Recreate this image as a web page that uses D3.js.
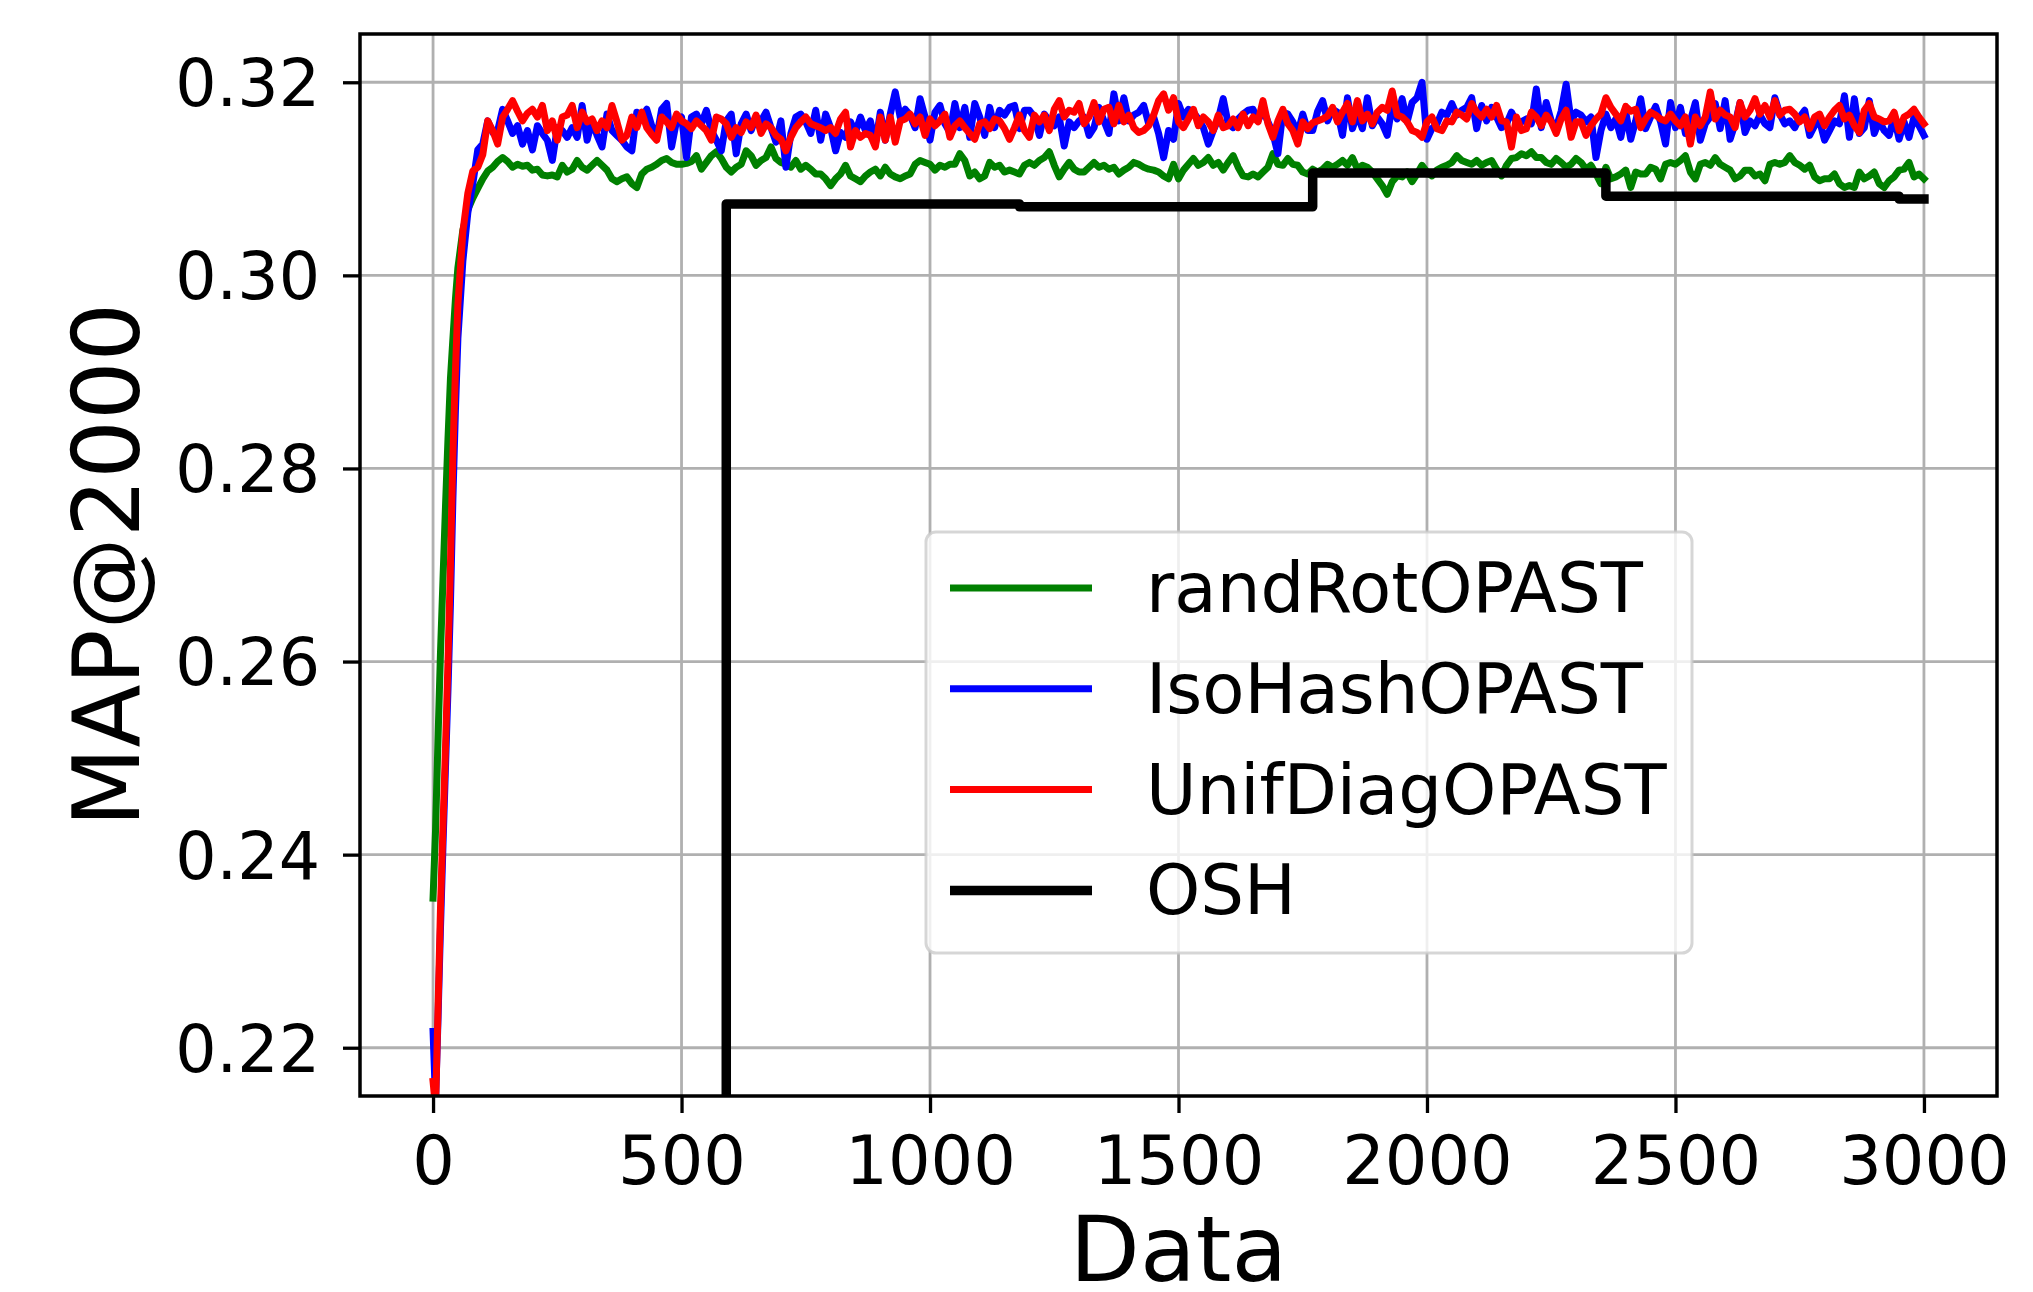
<!DOCTYPE html>
<html>
<head>
<meta charset="utf-8">
<script src="https://cdn.jsdelivr.net/npm/d3@7"></script>
<style>
  body { margin: 0; background: #fff; }
  svg { display: block; font-family: "DejaVu Sans", sans-serif; }
</style>
</head>
<body>
<svg id="chart" width="2033" height="1292"></svg>
<script>
// sample positions: dense at the start, then every 10 data points
const riseX = [0, 5, 10, 15, 20, 25, 30, 35, 40, 45, 50];
const dataX = riseX.concat(d3.range(60, 3001, 10));

const randRotOPAST = [
  0.2355, 0.2425, 0.2520, 0.2610, 0.2685, 0.2760, 0.2830, 0.2893, 0.2935, 0.2975, 0.3008,
  0.3047, 0.3068, 0.3080, 0.3090, 0.3100, 0.3108, 0.3112, 0.3118, 0.3122, 0.3118,
  0.3112, 0.3115, 0.3113, 0.3114, 0.3109, 0.3110, 0.3104, 0.3103, 0.3104, 0.3102,
  0.3114, 0.3107, 0.3110, 0.3119, 0.3112, 0.3109, 0.3114, 0.3119, 0.3114, 0.3109,
  0.3100, 0.3097, 0.3100, 0.3102, 0.3095, 0.3091, 0.3105, 0.3110, 0.3112, 0.3115,
  0.3119, 0.3121, 0.3117, 0.3115, 0.3115, 0.3116, 0.3118, 0.3124, 0.3110, 0.3117,
  0.3124, 0.3128,
  0.3121, 0.3112, 0.3107, 0.3112, 0.3115, 0.3129, 0.3124, 0.3114, 0.3119, 0.3122,
  0.3133, 0.3121, 0.3117, 0.3115, 0.3112, 0.3119, 0.3110, 0.3114, 0.3110, 0.3105,
  0.3105, 0.3100, 0.3093, 0.3100, 0.3105, 0.3114, 0.3103, 0.3100, 0.3097, 0.3103,
  0.3107, 0.3110, 0.3103, 0.3112, 0.3105, 0.3102, 0.3100, 0.3103, 0.3105, 0.3115,
  0.3119, 0.3117, 0.3115, 0.3109, 0.3114, 0.3112, 0.3115, 0.3115, 0.3126, 0.3119,
  0.3103, 0.3107, 0.3100, 0.3103, 0.3117, 0.3112, 0.3114, 0.3107, 0.3109, 0.3107,
  0.3105, 0.3114, 0.3117, 0.3114, 0.3119, 0.3122, 0.3128, 0.3114, 0.3102, 0.3110,
  0.3117, 0.3110, 0.3107, 0.3107, 0.3112, 0.3117, 0.3112, 0.3114, 0.3110, 0.3112,
  0.3105, 0.3109, 0.3112, 0.3117, 0.3115, 0.3112, 0.3110, 0.3109, 0.3107, 0.3103,
  0.3100, 0.3115, 0.3100, 0.3109, 0.3115, 0.3121, 0.3114, 0.3117, 0.3122, 0.3114,
  0.3117, 0.3109, 0.3117, 0.3124, 0.3112, 0.3103, 0.3102, 0.3105, 0.3102, 0.3107,
  0.3112, 0.3126, 0.3115, 0.3114, 0.3121, 0.3115, 0.3114, 0.3107, 0.3105,
  0.3110, 0.3107, 0.3110, 0.3115, 0.3112, 0.3115, 0.3119, 0.3114, 0.3122, 0.3110,
  0.3114, 0.3112, 0.3107, 0.3100, 0.3093, 0.3084, 0.3097, 0.3103, 0.3102, 0.3107,
  0.3097, 0.3105, 0.3114, 0.3107, 0.3103, 0.3109, 0.3112, 0.3114, 0.3117, 0.3124,
  0.3119, 0.3117, 0.3115, 0.3119, 0.3114, 0.3117, 0.3119, 0.3110, 0.3103, 0.3114,
  0.3121, 0.3122, 0.3126, 0.3124, 0.3128, 0.3122, 0.3122, 0.3117, 0.3115, 0.3121,
  0.3117, 0.3112, 0.3115, 0.3121, 0.3117, 0.3110, 0.3114, 0.3105, 0.3095,
  0.3112, 0.3100, 0.3102, 0.3105, 0.3109, 0.3091, 0.3107, 0.3105, 0.3105, 0.3112,
  0.3110, 0.3100, 0.3115, 0.3117, 0.3115, 0.3119, 0.3124, 0.3107, 0.3100, 0.3115,
  0.3117, 0.3114, 0.3122, 0.3115, 0.3112, 0.3109, 0.3100, 0.3103, 0.3109, 0.3109,
  0.3103, 0.3105, 0.3098, 0.3115, 0.3117, 0.3115, 0.3117, 0.3124, 0.3117, 0.3114,
  0.3110, 0.3114, 0.3102, 0.3098, 0.3100, 0.3100, 0.3105, 0.3095, 0.3091, 0.3093,
  0.3091, 0.3107, 0.3100, 0.3103, 0.3107, 0.3095, 0.3091, 0.3098, 0.3102, 0.3109,
  0.3110, 0.3117, 0.3102, 0.3105, 0.3100
];

const isoHashOPAST = [
  0.2217, 0.2145, 0.2230, 0.2325, 0.2410, 0.2490, 0.2570, 0.2660, 0.2770, 0.2860, 0.2935,
  0.3015, 0.3065, 0.3095, 0.3130, 0.3136, 0.3160, 0.3148, 0.3150, 0.3172, 0.3160,
  0.3147, 0.3155, 0.3136, 0.3150, 0.3130, 0.3155, 0.3147, 0.3140, 0.3119, 0.3153,
  0.3150, 0.3143, 0.3153, 0.3143, 0.3176, 0.3140, 0.3160, 0.3145, 0.3133, 0.3167,
  0.3150, 0.3145, 0.3140, 0.3133, 0.3129, 0.3169, 0.3164, 0.3172, 0.3155, 0.3143,
  0.3172, 0.3178, 0.3133, 0.3160, 0.3164, 0.3122, 0.3164, 0.3167, 0.3157, 0.3171,
  0.3150, 0.3140,
  0.3129, 0.3160, 0.3167, 0.3126, 0.3157, 0.3167, 0.3150, 0.3164, 0.3160, 0.3169,
  0.3153, 0.3138, 0.3160, 0.3112, 0.3147, 0.3164, 0.3167, 0.3159, 0.3147, 0.3171,
  0.3140, 0.3167, 0.3153, 0.3129, 0.3148, 0.3143, 0.3159, 0.3148, 0.3164, 0.3150,
  0.3160, 0.3136, 0.3169, 0.3140, 0.3167, 0.3190, 0.3164, 0.3172, 0.3166, 0.3153,
  0.3183, 0.3164, 0.3140, 0.3169, 0.3176, 0.3157, 0.3148, 0.3178, 0.3153, 0.3174,
  0.3143, 0.3178, 0.3164, 0.3145, 0.3174, 0.3153, 0.3171, 0.3166, 0.3174, 0.3176,
  0.3152, 0.3171, 0.3171, 0.3164, 0.3145, 0.3167, 0.3160, 0.3155, 0.3164, 0.3134,
  0.3159, 0.3153, 0.3160, 0.3164, 0.3145, 0.3153, 0.3174, 0.3160, 0.3147, 0.3188,
  0.3160, 0.3184, 0.3160, 0.3166, 0.3169, 0.3176, 0.3157, 0.3164, 0.3147, 0.3122,
  0.3150, 0.3141, 0.3178, 0.3164, 0.3172, 0.3169, 0.3162, 0.3153, 0.3136, 0.3150,
  0.3162, 0.3183, 0.3157, 0.3153, 0.3162, 0.3167, 0.3171, 0.3172, 0.3160, 0.3172,
  0.3159, 0.3147, 0.3126, 0.3169, 0.3167, 0.3159, 0.3147, 0.3167, 0.3150,
  0.3150, 0.3170, 0.3181, 0.3160, 0.3172, 0.3169, 0.3145, 0.3184, 0.3152, 0.3167,
  0.3152, 0.3184, 0.3155, 0.3164, 0.3157, 0.3145, 0.3176, 0.3162, 0.3183, 0.3159,
  0.3179, 0.3184, 0.3200, 0.3141, 0.3152, 0.3157, 0.3169, 0.3166, 0.3178, 0.3166,
  0.3171, 0.3174, 0.3184, 0.3152, 0.3176, 0.3160, 0.3174, 0.3164, 0.3153, 0.3157,
  0.3169, 0.3159, 0.3159, 0.3162, 0.3157, 0.3193, 0.3153, 0.3179, 0.3160, 0.3153,
  0.3170, 0.3198, 0.3160, 0.3169, 0.3166, 0.3159, 0.3164, 0.3122, 0.3150,
  0.3167, 0.3153, 0.3162, 0.3143, 0.3169, 0.3141, 0.3160, 0.3183, 0.3152, 0.3164,
  0.3175, 0.3159, 0.3136, 0.3179, 0.3153, 0.3174, 0.3147, 0.3160, 0.3179, 0.3140,
  0.3157, 0.3164, 0.3178, 0.3152, 0.3181, 0.3141, 0.3157, 0.3179, 0.3148, 0.3160,
  0.3155, 0.3166, 0.3157, 0.3153, 0.3184, 0.3167, 0.3157, 0.3160, 0.3153, 0.3164,
  0.3171, 0.3145, 0.3155, 0.3160, 0.3140, 0.3150, 0.3160, 0.3157, 0.3186, 0.3143,
  0.3183, 0.3147, 0.3153, 0.3181, 0.3147, 0.3160, 0.3150, 0.3145, 0.3164, 0.3141,
  0.3159, 0.3143, 0.3164, 0.3155, 0.3145
];

const unifDiagOPAST = [
  0.2165, 0.2138, 0.2240, 0.2345, 0.2430, 0.2510, 0.2600, 0.2700, 0.2815, 0.2900, 0.2970,
  0.3045, 0.3085, 0.3108, 0.3112, 0.3125, 0.3160, 0.3150, 0.3136, 0.3164, 0.3172,
  0.3181, 0.3170, 0.3160, 0.3168, 0.3172, 0.3164, 0.3176, 0.3150, 0.3160, 0.3140,
  0.3164, 0.3166, 0.3176, 0.3153, 0.3169, 0.3159, 0.3162, 0.3150, 0.3160, 0.3153,
  0.3176, 0.3159, 0.3140, 0.3145, 0.3164, 0.3153, 0.3169, 0.3153, 0.3146, 0.3140,
  0.3164, 0.3159, 0.3153, 0.3167, 0.3160, 0.3157, 0.3152, 0.3160, 0.3155, 0.3150,
  0.3140, 0.3164,
  0.3162, 0.3157, 0.3143, 0.3153, 0.3148, 0.3159, 0.3153, 0.3166, 0.3147, 0.3157,
  0.3153, 0.3145, 0.3141, 0.3129, 0.3143, 0.3153, 0.3159, 0.3164, 0.3157, 0.3155,
  0.3153, 0.3150, 0.3153, 0.3147, 0.3162, 0.3169, 0.3133, 0.3150, 0.3143, 0.3147,
  0.3145, 0.3133, 0.3164, 0.3140, 0.3164, 0.3138, 0.3160, 0.3162, 0.3167, 0.3157,
  0.3164, 0.3145, 0.3162, 0.3155, 0.3160, 0.3167, 0.3143, 0.3155, 0.3160, 0.3153,
  0.3147, 0.3141, 0.3157, 0.3159, 0.3152, 0.3162, 0.3160, 0.3152, 0.3141, 0.3153,
  0.3166, 0.3150, 0.3143, 0.3166, 0.3159, 0.3166, 0.3150, 0.3172, 0.3181, 0.3164,
  0.3171, 0.3169, 0.3178, 0.3157, 0.3164, 0.3179, 0.3159, 0.3172, 0.3174, 0.3157,
  0.3176, 0.3159, 0.3166, 0.3153, 0.3148, 0.3150, 0.3155, 0.3166, 0.3181, 0.3188,
  0.3171, 0.3184, 0.3159, 0.3153, 0.3162, 0.3172, 0.3155, 0.3164, 0.3159, 0.3150,
  0.3166, 0.3153, 0.3155, 0.3162, 0.3153, 0.3167, 0.3155, 0.3164, 0.3159, 0.3181,
  0.3157, 0.3143, 0.3160, 0.3172, 0.3157, 0.3150, 0.3136, 0.3159, 0.3152,
  0.3158, 0.3160, 0.3162, 0.3165, 0.3174, 0.3159, 0.3169, 0.3178, 0.3159, 0.3181,
  0.3160, 0.3167, 0.3157, 0.3169, 0.3174, 0.3171, 0.3191, 0.3166, 0.3164, 0.3159,
  0.3150, 0.3148, 0.3143, 0.3159, 0.3164, 0.3152, 0.3150, 0.3160, 0.3159, 0.3169,
  0.3166, 0.3162, 0.3178, 0.3169, 0.3164, 0.3172, 0.3164, 0.3176, 0.3160, 0.3159,
  0.3133, 0.3164, 0.3150, 0.3152, 0.3169, 0.3164, 0.3155, 0.3166, 0.3159, 0.3147,
  0.3162, 0.3171, 0.3143, 0.3159, 0.3159, 0.3145, 0.3155, 0.3162, 0.3167,
  0.3184, 0.3174, 0.3167, 0.3160, 0.3175, 0.3170, 0.3172, 0.3153, 0.3162, 0.3169,
  0.3166, 0.3162, 0.3160, 0.3167, 0.3160, 0.3155, 0.3164, 0.3136, 0.3164, 0.3155,
  0.3164, 0.3190, 0.3162, 0.3171, 0.3166, 0.3164, 0.3153, 0.3179, 0.3164, 0.3171,
  0.3183, 0.3167, 0.3176, 0.3164, 0.3181, 0.3166, 0.3171, 0.3172, 0.3167, 0.3159,
  0.3164, 0.3152, 0.3164, 0.3167, 0.3155, 0.3164, 0.3171, 0.3176, 0.3162, 0.3166,
  0.3155, 0.3148, 0.3171, 0.3178, 0.3164, 0.3162, 0.3159, 0.3160, 0.3169, 0.3150,
  0.3164, 0.3167, 0.3172, 0.3164, 0.3157
];

// OSH is re-evaluated in blocks; first value lies below the visible range
const oshX = [0, 590, 1180, 1770, 2360, 2950, 3000];
const oshY = [0.205, 0.3074, 0.3071, 0.3106, 0.3082, 0.3079, 0.3079];

const xTicks = [0, 500, 1000, 1500, 2000, 2500, 3000];
const yTicks = [0.22, 0.24, 0.26, 0.28, 0.30, 0.32];

const series = [
  { name: 'randRotOPAST', color: '#008000', width: 7, xs: dataX, ys: randRotOPAST, curve: d3.curveLinear },
  { name: 'IsoHashOPAST', color: '#0000ff', width: 7, xs: dataX, ys: isoHashOPAST, curve: d3.curveLinear },
  { name: 'UnifDiagOPAST', color: '#ff0000', width: 7, xs: dataX, ys: unifDiagOPAST, curve: d3.curveLinear },
  { name: 'OSH', color: '#000000', width: 9.5, xs: oshX, ys: oshY, curve: d3.curveStepAfter }
];

const svg = d3.select('#chart');
const plot = { left: 360, right: 1997, top: 34, bottom: 1096 };

const x = d3.scaleLinear().domain([-147, 3147]).range([plot.left, plot.right]);
const y = d3.scaleLinear().domain([0.215, 0.325]).range([plot.bottom, plot.top]);

svg.append('defs').append('clipPath').attr('id', 'clip')
  .append('rect')
  .attr('x', plot.left).attr('y', plot.top)
  .attr('width', plot.right - plot.left).attr('height', plot.bottom - plot.top);

// grid
svg.append('g')
  .selectAll('line.vgrid')
  .data(xTicks)
  .enter()
  .append('line')
  .attr('x1', (d) => x(d)).attr('x2', (d) => x(d))
  .attr('y1', plot.top).attr('y2', plot.bottom)
  .attr('stroke', '#b0b0b0').attr('stroke-width', 2.8);

svg.append('g')
  .selectAll('line.hgrid')
  .data(yTicks)
  .enter()
  .append('line')
  .attr('y1', (d) => y(d)).attr('y2', (d) => y(d))
  .attr('x1', plot.left).attr('x2', plot.right)
  .attr('stroke', '#b0b0b0').attr('stroke-width', 2.8);

// lines
const lines = svg.append('g').attr('clip-path', 'url(#clip)');
series.forEach((s) => {
  const line = d3.line()
    .x((d) => x(d[0]))
    .y((d) => y(d[1]))
    .curve(s.curve);
  lines.append('path')
    .datum(d3.zip(s.xs, s.ys))
    .attr('d', line)
    .attr('fill', 'none')
    .attr('stroke', s.color)
    .attr('stroke-width', s.width)
    .attr('stroke-linejoin', 'round')
    .attr('stroke-linecap', 'square');
});

// axes
const xAxis = svg.append('g')
  .attr('transform', `translate(0,${plot.bottom})`)
  .call(d3.axisBottom(x).tickValues(xTicks).tickFormat(d3.format('d')).tickSize(17).tickPadding(23));
const yAxis = svg.append('g')
  .attr('transform', `translate(${plot.left},0)`)
  .call(d3.axisLeft(y).tickValues(yTicks).tickFormat(d3.format('.2f')).tickSize(17).tickPadding(23));

[xAxis, yAxis].forEach((g) => {
  g.select('.domain').remove();
  g.selectAll('.tick line').attr('stroke', '#000').attr('stroke-width', 3.3);
  g.selectAll('.tick text')
    .attr('fill', '#000')
    .style('font-family', '"DejaVu Sans", sans-serif');
});
xAxis.selectAll('.tick text').style('font-size', '67px');
yAxis.selectAll('.tick text').style('font-size', '65px').attr('dy', '0.36em');

// frame
svg.append('rect')
  .attr('x', plot.left).attr('y', plot.top)
  .attr('width', plot.right - plot.left).attr('height', plot.bottom - plot.top)
  .attr('fill', 'none').attr('stroke', '#000').attr('stroke-width', 3.5);

// axis labels
svg.append('text')
  .attr('x', (plot.left + plot.right) / 2)
  .attr('y', 1281)
  .attr('text-anchor', 'middle')
  .style('font-size', '91px')
  .text('Data');

svg.append('text')
  .attr('transform', `translate(139,${(plot.top + plot.bottom) / 2}) rotate(-90)`)
  .attr('text-anchor', 'middle')
  .style('font-size', '92px')
  .text('MAP@2000');

// legend
const legend = svg.append('g');
legend.append('rect')
  .attr('x', 926).attr('y', 532)
  .attr('width', 766).attr('height', 421)
  .attr('rx', 10).attr('ry', 10)
  .attr('fill', '#fff').attr('fill-opacity', 0.8)
  .attr('stroke', '#cccccc').attr('stroke-opacity', 0.8).attr('stroke-width', 3);

const entries = legend.selectAll('g.entry')
  .data(series)
  .enter()
  .append('g')
  .attr('transform', (d, i) => `translate(0,${588 + i * 100.8})`);

entries.append('line')
  .attr('x1', 950).attr('x2', 1092)
  .attr('stroke', (d) => d.color)
  .attr('stroke-width', (d) => d.width);

entries.append('text')
  .attr('x', 1146)
  .attr('y', 24)
  .style('font-size', '69px')
  .text((d) => d.name);
</script>
</body>
</html>
